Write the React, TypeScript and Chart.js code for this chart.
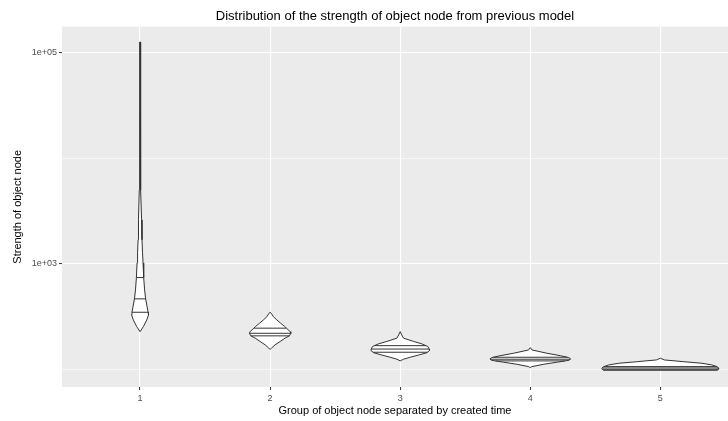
import React, { useEffect, useRef } from 'react';
import { Chart, registerables } from 'chart.js';

Chart.register(...registerables);

const chartTitle = 'Distribution of the strength of object node from previous model';
const xTitle = 'Group of object node separated by created time';
const yTitle = 'Strength of object node';

const groups = [1, 2, 3, 4, 5];
const xRange = [0.4, 5.52];
const yRange = [68.2, 176400];
const yGridValues = [100, 1000, 10000, 100000];
const yLabelledValues = [1000, 100000];
const yTickLabels = ['1e+03', '1e+05'];

// Violin outlines: strength values (top -> bottom) and density half-widths (x units)
const g1Strength = [126000, 35900, 12050, 5020, 2610, 1690, 1271, 1021, 741, 567, 466, 348, 329, 295, 255, 228];
const g1HalfWidth = [0.003, 0.003, 0.004, 0.006, 0.012, 0.015, 0.019, 0.023, 0.028, 0.035, 0.043, 0.062, 0.065, 0.052, 0.026, 0];
const g1Quantiles = [348, 466, 741];

const g2Strength = [348, 341, 316, 294, 274, 255, 246, 228, 220, 208, 198, 184, 171, 159, 155];
const g2HalfWidth = [0, 0.008, 0.025, 0.052, 0.081, 0.112, 0.125, 0.154, 0.159, 0.148, 0.115, 0.077, 0.038, 0.01, 0];
const g2Quantiles = [208, 220, 246];

const g3Strength = [228, 212, 198, 184, 175, 165, 156, 151, 144, 137, 130.5, 125, 120.5];
const g3HalfWidth = [0, 0.012, 0.025, 0.104, 0.165, 0.212, 0.223, 0.225, 0.204, 0.142, 0.077, 0.025, 0];
const g3Quantiles = [145.5, 156, 168];

const g4Strength = [161, 153, 142.5, 135, 129.4, 125.9, 122.3, 117, 112, 106.3, 104];
const g4HalfWidth = [0, 0.013, 0.127, 0.231, 0.296, 0.31, 0.3, 0.204, 0.104, 0.012, 0];
const g4Quantiles = [120.5, 125, 130.5];

const g5Strength = [127.7, 123, 118.6, 114.5, 110.4, 106.4, 102.6, 100.3, 98.2];
const g5HalfWidth = [0, 0.031, 0.173, 0.319, 0.396, 0.435, 0.45, 0.446, 0.438];
const g5Quantiles = [100.3, 103.3, 106.4];

const violins = [
  { strength: g1Strength, halfWidth: g1HalfWidth, quantiles: g1Quantiles },
  { strength: g2Strength, halfWidth: g2HalfWidth, quantiles: g2Quantiles },
  { strength: g3Strength, halfWidth: g3HalfWidth, quantiles: g3Quantiles },
  { strength: g4Strength, halfWidth: g4HalfWidth, quantiles: g4Quantiles },
  { strength: g5Strength, halfWidth: g5HalfWidth, quantiles: g5Quantiles },
];

const OUTLINE = '#333333';
const FONT = "'Liberation Sans', Arial, sans-serif";

function halfWidthAt(strength: number[], hw: number[], v: number): number {
  const lv = Math.log10(v);
  for (let i = 0; i < strength.length - 1; i++) {
    const a = Math.log10(strength[i]);
    const b = Math.log10(strength[i + 1]);
    if ((lv <= a && lv >= b) || (lv >= a && lv <= b)) {
      const t = a === b ? 0 : (lv - a) / (b - a);
      return hw[i] + t * (hw[i + 1] - hw[i]);
    }
  }
  return 0;
}

function buildDatasets() {
  const ds: any[] = [];
  violins.forEach((v, gi) => {
    const c = groups[gi];
    const right = v.strength.map((s, i) => ({ x: c + v.halfWidth[i], y: s }));
    const left = v.strength.map((s, i) => ({ x: c - v.halfWidth[i], y: s })).reverse();
    ds.push({
      data: [...right, ...left, right[0]],
      borderColor: OUTLINE,
      borderWidth: 1,
      backgroundColor: '#FFFFFF',
      fill: 'shape',
      pointRadius: 0,
      tension: 0,
      borderJoinStyle: 'round',
      order: 2,
    });
    v.quantiles.forEach((q) => {
      const w = halfWidthAt(v.strength, v.halfWidth, q);
      ds.push({
        data: [
          { x: c - w, y: q },
          { x: c + w, y: q },
        ],
        borderColor: OUTLINE,
        borderWidth: 1,
        fill: false,
        pointRadius: 0,
        order: 1,
      });
    });
  });
  return ds;
}

const panelBackground = {
  id: 'panelBackground',
  beforeDraw(chart: any) {
    const { ctx, chartArea } = chart;
    ctx.save();
    ctx.fillStyle = '#EBEBEB';
    ctx.fillRect(chartArea.left, chartArea.top, chartArea.right - chartArea.left, chartArea.bottom - chartArea.top);
    ctx.restore();
  },
};

export default function App() {
  const ref = useRef<HTMLCanvasElement | null>(null);
  useEffect(() => {
    if (!ref.current) return;
    const chart = new Chart(ref.current, {
      type: 'line',
      data: { datasets: buildDatasets() },
      plugins: [panelBackground],
      options: {
        responsive: false,
        animation: false,
        layout: { padding: 0 },
        plugins: {
          legend: { display: false },
          tooltip: { enabled: false },
          filler: { drawTime: 'beforeDatasetsDraw' },
          title: {
            display: true,
            text: chartTitle,
            fullSize: false,
            color: '#000000',
            font: { family: FONT, size: 13, weight: 'normal' },
            padding: { top: 9, bottom: 2 },
          },
        },
        scales: {
          x: {
            type: 'linear',
            min: xRange[0],
            max: xRange[1],
            afterFit: (s: any) => {
              s.height = 34;
            },
            afterBuildTicks: (s: any) => {
              s.ticks = groups.map((g) => ({ value: g }));
            },
            border: { display: false },
            grid: {
              color: '#FFFFFF',
              lineWidth: 1.1,
              drawTicks: true,
              tickLength: 3,
              tickColor: OUTLINE,
              tickWidth: 1,
            },
            ticks: {
              color: '#4D4D4D',
              font: { family: FONT, size: 9 },
              padding: 3,
              maxRotation: 0,
              callback: (v: any) => String(v),
            },
            title: {
              display: true,
              text: xTitle,
              color: '#000000',
              font: { family: FONT, size: 11 },
              padding: { top: 0, bottom: 3 },
            },
          },
          y: {
            type: 'logarithmic',
            min: yRange[0],
            max: yRange[1],
            afterFit: (s: any) => {
              s.width = 62;
            },
            afterBuildTicks: (s: any) => {
              s.ticks = yGridValues.map((v) => ({ value: v }));
            },
            border: { display: false },
            grid: {
              color: '#FFFFFF',
              lineWidth: (ctx: any) => (ctx.tick && yLabelledValues.includes(ctx.tick.value) ? 1.1 : 0.55),
              drawTicks: true,
              tickLength: 3,
              tickColor: (ctx: any) => (ctx.tick && yLabelledValues.includes(ctx.tick.value) ? OUTLINE : 'rgba(0,0,0,0)'),
              tickWidth: 1,
            },
            ticks: {
              color: '#4D4D4D',
              font: { family: FONT, size: 9 },
              padding: 2,
              autoSkip: false,
              callback: (v: any) => {
                const i = yLabelledValues.indexOf(Number(v));
                return i >= 0 ? yTickLabels[i] : '';
              },
            },
            title: {
              display: true,
              text: yTitle,
              color: '#000000',
              font: { family: FONT, size: 11 },
              padding: { top: 11, bottom: 0 },
            },
          },
        },
      } as any,
    });
    return () => chart.destroy();
  }, []);
  return (
    <div style={{ position: 'absolute', left: 0, top: 0, width: 728, height: 421, background: '#FFFFFF' }}>
      <canvas ref={ref} width={728} height={421} style={{ display: 'block' }} />
    </div>
  );
}
